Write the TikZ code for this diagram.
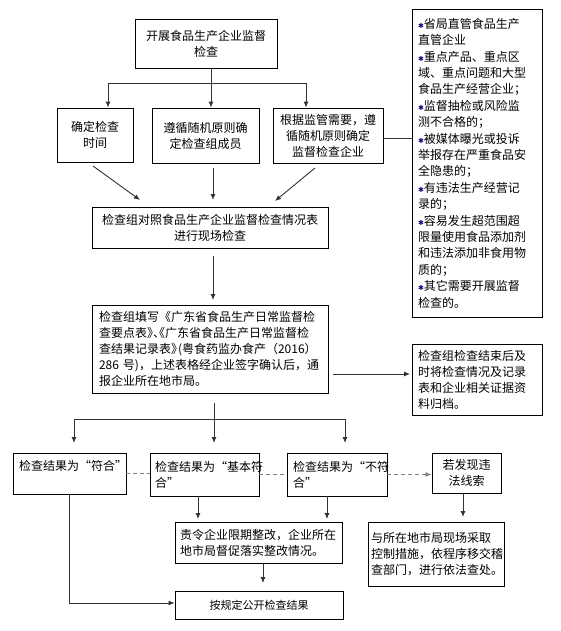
\documentclass[tikz,border=0pt]{standalone}
\usepackage{fontspec}
\newfontfamily\cjk{Noto Sans CJK SC}
\newfontfamily\djv{DejaVu Sans}
\usetikzlibrary{arrows.meta}
\newcommand\mybul{{\djv\fontsize{7}{7}\selectfont\color{blue!45!black}✱}}
\begin{document}
\begin{tikzpicture}[x=1pt,y=-1pt,
 box/.style={draw=black, line width=0.8pt, inner sep=0pt, font=\cjk\fontsize{12}{16}\selectfont, align=center},
 lbox/.style={box, align=left},
 conn/.style={draw=black!80, line width=0.9pt},
 arr/.style={conn, -{Latex[length=6pt,width=5pt]}},
 dsh/.style={draw=black!50, line width=1pt, dash pattern=on 4pt off 3pt}]
\useasboundingbox (0,0) rectangle (561,631);

% boxes
\node[box, minimum width=142pt, minimum height=49pt] (top) at (206,43.5) {开展食品生产企业监督\\检查};
\node[box, minimum width=76pt, minimum height=54pt] (A) at (95,135) {确定检查\\时间};
\node[box, minimum width=107pt, minimum height=55pt] (B) at (205.5,135.5) {遵循随机原则确\\定检查组成员};
\node[box, minimum width=110pt, minimum height=55pt] (C) at (328,135.5) {根据监管需要，遵\\循随机原则确定\\监督检查企业};
\node[lbox, minimum width=130pt, minimum height=308pt, text width=118pt, font=\cjk\fontsize{12}{16.4}\selectfont] (rbox) at (477,163)
 {\mybul 省局直管食品生产\\直管企业\\\mybul 重点产品、重点区\\域、重点问题和大型\\食品生产经营企业；\\\mybul 监督抽检或风险监\\测不合格的；\\\mybul 被媒体曝光或投诉\\举报存在严重食品安\\全隐患的；\\\mybul 有违法生产经营记\\录的；\\\mybul 容易发生超范围超\\限量使用食品添加剂\\和违法添加非食用物\\质的；\\\mybul 其它需要开展监督\\检查的。};
\node[box, minimum width=236pt, minimum height=41pt] (M1) at (210,227.5) {检查组对照食品生产企业监督检查情况表\\进行现场检查};
\node[lbox, minimum width=236pt, minimum height=88pt, text width=222pt] (M2) at (210,349)
 {\mbox{检查组填写《广东省食品生产日常监督检}\\\mbox{查要点表\makebox[6pt][l]{》}\makebox[6pt][l]{、}\makebox[6pt][r]{《}广东省食品生产日常监督检}\\\mbox{查结果记录表\makebox[7pt][l]{》}(粤食药监办食产（2016）}\\\mbox{286 号)，上述表格经企业签字确认后，通}\\报企业所在地市局。};
\node[lbox, minimum width=130pt, minimum height=71pt, text width=118pt] (side) at (477,379.5)
 {检查组检查结束后及\\时将检查情况及记录\\表和企业相关证据资\\料归档。};
\node[lbox, minimum width=113pt, minimum height=41pt, text width=101pt] (R1) at (69.5,473.5) {检查结果为“符合”\\\phantom{合}};
\node[lbox, minimum width=109pt, minimum height=43pt, text width=99pt] (R2) at (204.5,474.5) {检查结果为“基本符\\合”};
\node[lbox, minimum width=100pt, minimum height=43pt, text width=88pt] (R3) at (337,474.5) {检查结果为“不符\\合”};
\node[box, minimum width=69pt, minimum height=40pt] (R4) at (466.5,473) {若发现违\\法线索};
\node[lbox, minimum width=167pt, minimum height=41pt, text width=157pt] (R5) at (258.5,542.5) {责令企业限期整改，企业所在\\地市局督促落实整改情况。};
\node[lbox, minimum width=136pt, minimum height=64pt, text width=130pt] (R6) at (436,554) {与所在地市局现场采取\\控制措施，依程序移交稽\\查部门，进行依法查处。};
\node[box, minimum width=168pt, minimum height=28pt, font=\cjk\fontsize{11}{14}\selectfont] (R7) at (259,605) {按规定公开检查结果};

% junction coordinates
\coordinate (j1) at (211,83);
\coordinate (a1) at (93,166);   \coordinate (a2) at (140,200);
\coordinate (b1) at (213,168);  \coordinate (b2) at (213,200);
\coordinate (c1) at (315,168);  \coordinate (c2) at (275,201);
\coordinate (d1) at (213,256);  \coordinate (d2) at (213,300);
\coordinate (e1) at (333,374);  \coordinate (e2) at (410,374);
\coordinate (s2) at (214,403);  \coordinate (j2) at (214,419);
\coordinate (t1) at (74,443);   \coordinate (t2) at (214,443);  \coordinate (t3) at (345,443);
\coordinate (u1) at (198,519);  \coordinate (u2) at (327,519);
\coordinate (u3) at (463,517);  \coordinate (u4) at (263,583);

% connectors
\draw[conn] (j1 |- top.south) -- (j1);
\draw[arr] (j1) -| ([xshift=13pt]A.north);
\draw[arr] (j1) -| ([xshift=-22pt]C.north);
\draw[arr] (j1) -- (j1 |- B.north);
\draw[conn] ([yshift=-2.5pt]C.east) -- ([yshift=-2.5pt]C.east -| rbox.west);
\draw[arr] (a1) -- (a2);
\draw[arr] (b1) -- (b2);
\draw[arr] (c1) -- (c2);
\draw[arr] (d1) -- (d2);
\draw[arr] (e1) -- (e2);
\draw[conn] (s2) -- (j2);
\draw[arr] (j2) -| (t1);
\draw[arr] (j2) -| (t3);
\draw[arr] (j2) -- (t2);
\draw[dsh] (R1.east) -- (R1.east -| R2.west);
\draw[dsh] (R2.east) -- (R2.east -| R3.west);
\draw[dsh, -{Latex[length=6pt,width=5pt]}] (R3.east) -- (R3.east -| R4.west);
\draw[arr] (u1 |- R2.south) -- (u1);
\draw[arr] (u2 |- R3.south) -- (u2);
\draw[arr] (u3 |- R4.south) -- (u3);
\draw[arr] (u4 |- R5.south) -- (u4);
\draw[arr] (R1.south) |- ([yshift=2pt]R7.west);
\end{tikzpicture}
\end{document}
